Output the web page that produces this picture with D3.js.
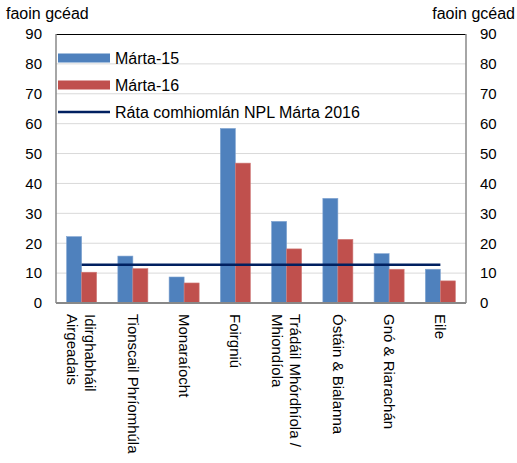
<!DOCTYPE html>
<html><head><meta charset="utf-8">
<script src="https://cdn.jsdelivr.net/npm/d3@7"></script>
<style>
body{margin:0;background:#fff;}
text{font-family:"Liberation Sans",Arial,sans-serif;fill:#000;}
</style></head>
<body><svg id="c" width="517" height="463"></svg>
<script>
const categories = [["Idirghabháil","Airgeadais"],["Tionscail Phríomhúla"],["Monaraíocht"],["Foirgniú"],["Trádáil Mhórdhíola /","Mhiondíola"],["Óstáin & Bialanna"],["Gnó & Riarachán"],["Eile"]];
const march15 = [22.2, 15.7, 8.7, 58.4, 27.3, 35.0, 16.5, 11.3];
const march16 = [10.3, 11.5, 6.7, 46.8, 18.1, 21.3, 11.3, 7.4];
const nplRate = 12.8;
const yTicks = [0,10,20,30,40,50,60,70,80,90];
const seriesNames = ["Márta-15","Márta-16","Ráta comhiomlán NPL Márta 2016"];
const axisTitle = "faoin gcéad";

const svg = d3.select("#c");
const L=56, R=466, T=34, B=303;
const x = d3.scaleBand().domain(d3.range(categories.length)).range([L,R]).padding(0);
const y = d3.scaleLinear().domain([0,90]).range([B,T]);
const bw = x.bandwidth()*0.293;

// gridlines
svg.append("g").selectAll("line").data(yTicks.filter(d=>d>0&&d<90)).join("line")
  .attr("x1",L).attr("x2",R).attr("y1",d=>y(d)).attr("y2",d=>y(d))
  .attr("stroke","#d9d9d9").attr("stroke-width",1);

// bars
const g = svg.append("g");
g.selectAll(".b15").data(march15).join("rect")
  .attr("x",(d,i)=>x(i)+x.bandwidth()/2-bw).attr("width",bw)
  .attr("y",d=>y(d)).attr("height",d=>B-y(d))
  .attr("fill","#4F81BD").attr("stroke","#7FA3D1").attr("stroke-width",0.6);
g.selectAll(".b16").data(march16).join("rect")
  .attr("x",(d,i)=>x(i)+x.bandwidth()/2).attr("width",bw)
  .attr("y",d=>y(d)).attr("height",d=>B-y(d))
  .attr("fill","#C0504D").attr("stroke","#D07C7A").attr("stroke-width",0.6);

// NPL line
svg.append("line")
  .attr("x1",x(0)+x.bandwidth()/2).attr("x2",x(categories.length-1)+x.bandwidth()/2)
  .attr("y1",y(nplRate)).attr("y2",y(nplRate))
  .attr("stroke","#002060").attr("stroke-width",2.5);

// frame
svg.append("line").attr("x1",L).attr("x2",R).attr("y1",T+0.5).attr("y2",T+0.5).attr("stroke","#000").attr("stroke-width",1);
svg.append("line").attr("x1",L).attr("x2",L).attr("y1",T).attr("y2",B).attr("stroke","#888").attr("stroke-width",1.5);
svg.append("line").attr("x1",R).attr("x2",R).attr("y1",T).attr("y2",B).attr("stroke","#888").attr("stroke-width",1.5);
svg.append("line").attr("x1",L).attr("x2",R).attr("y1",B).attr("y2",B).attr("stroke","#888").attr("stroke-width",2);

// axes
const yl = d3.axisLeft(y).tickValues(yTicks).tickSize(0).tickPadding(14);
const ylg = svg.append("g").attr("transform",`translate(${L},0)`).call(yl);
ylg.select(".domain").remove();
ylg.selectAll("text").style("font-size","15px").style("font-family","Liberation Sans, Arial, sans-serif");
const yr = d3.axisRight(y).tickValues(yTicks).tickSize(0).tickPadding(14);
const yrg = svg.append("g").attr("transform",`translate(${R},0)`).call(yr);
yrg.select(".domain").remove();
yrg.selectAll("text").style("font-size","15px").style("font-family","Liberation Sans, Arial, sans-serif");

svg.append("text").attr("x",6).attr("y",19).style("font-size","16px").text(axisTitle);
svg.append("text").attr("x",515).attr("y",19).attr("text-anchor","end").style("font-size","16px").text(axisTitle);

// category labels
categories.forEach((lines,i)=>{
  const cx = x(i)+x.bandwidth()/2;
  const t = svg.append("text").attr("transform",`translate(${cx},314) rotate(90)`).style("font-size","15px");
  const n = lines.length;
  lines.forEach((s,j)=>{
    const off = (j-(n-1)/2)*18;
    t.append("tspan").attr("x",0).attr("y",off).attr("dy","0.35em").text(s);
  });
});

// legend
const leg = [{c:"#4F81BD",y:58,t:"bar"},{c:"#C0504D",y:85,t:"bar"},{c:"#002060",y:112,t:"line"}];
leg.forEach((d,i)=>{
  if(d.t==="bar") svg.append("rect").attr("x",58).attr("y",d.y-4.5).attr("width",52).attr("height",9).attr("fill",d.c);
  else svg.append("line").attr("x1",58).attr("x2",110).attr("y1",d.y).attr("y2",d.y).attr("stroke",d.c).attr("stroke-width",2.5);
  svg.append("text").attr("x",115).attr("y",d.y).attr("dy","0.35em").style("font-size","16px").text(seriesNames[i]);
});
</script></body></html>
